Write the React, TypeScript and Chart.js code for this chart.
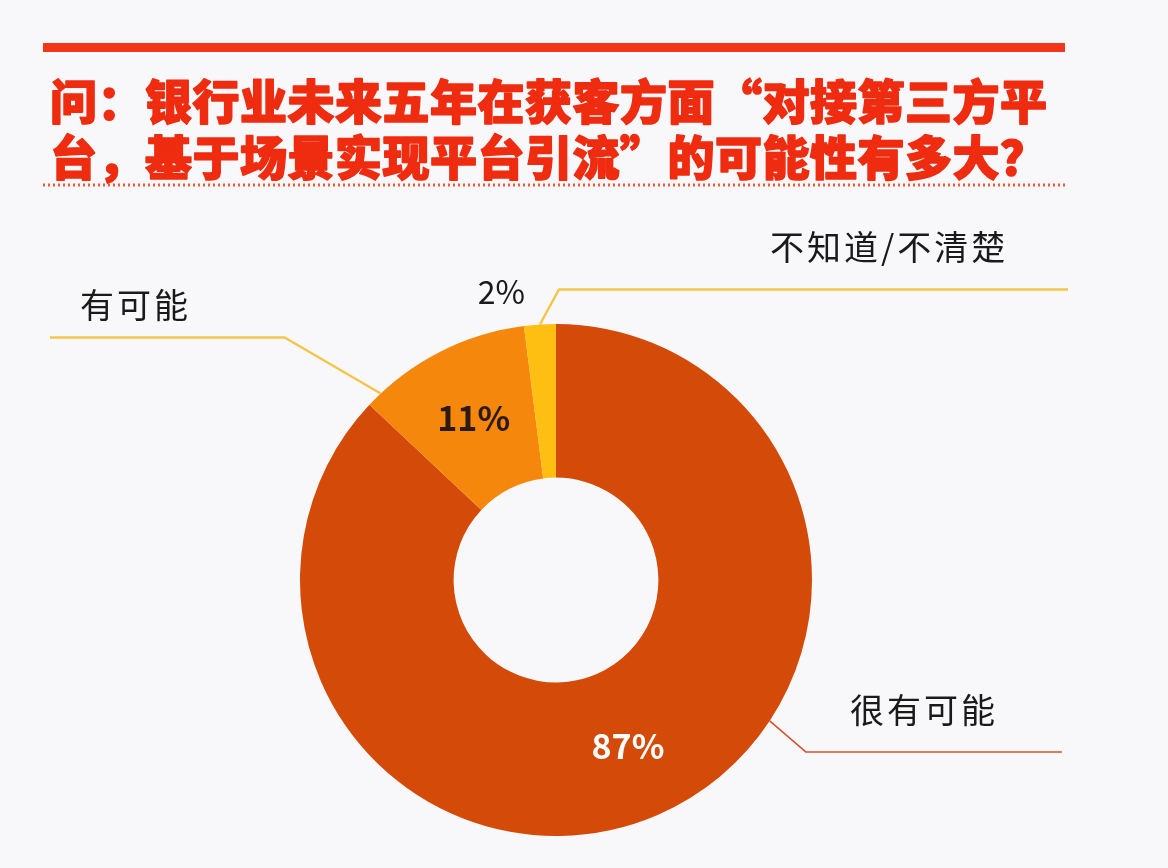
import React, { useEffect, useRef } from 'react';
import { Chart, registerables } from 'chart.js';

Chart.register(...registerables);

// data
const categories = ['很有可能', '有可能', '不知道/不清楚'];
const shares = [87, 11, 2];
const titleLines = ['问：银行业未来五年在获客方面“对接第三方平', '台，基于场景实现平台引流”的可能性有多大？'];

const sliceColors = ['#D44A08', '#F5870C', '#FFBE12'];
const BG = '#F8F8FA';
const FONT = '"Noto Sans CJK SC", "Noto Sans", sans-serif';

// leader line layout per slice: t = where on the slice arc the line starts,
// elbow = offset from the arc edge, endX = where the horizontal part stops
const leaders = [
  { t: 0.394, elbow: [36, 31], endX: 1062, color: '#D4502C', width: 1.5, label: [850, 710], pctInside: true, pctColor: '#FFFFFF' },
  { t: 0.09, elbow: [-96, -56], endX: 50, color: '#F3C64A', width: 2.5, label: [80, 305], pctInside: true, pctColor: '#2A1A12' },
  { t: 0.5, elbow: [19, -35], endX: 1068, color: '#F3C64A', width: 2.5, label: [770, 247], pctInside: false, pctColor: '#1A1A1A' },
];

const annotations = {
  id: 'annotations',
  beforeDraw(chart: Chart) {
    const { ctx, width, height } = chart;
    ctx.save();
    ctx.fillStyle = BG;
    ctx.fillRect(0, 0, width, height);
    ctx.restore();
  },
  afterDraw(chart: Chart) {
    const { ctx } = chart;
    ctx.save();

    // header rule
    ctx.fillStyle = '#F2361A';
    ctx.fillRect(43, 43, 1022, 9);

    // title (stroked a little to get the heavy look)
    ctx.fillStyle = '#EF2C10';
    ctx.strokeStyle = '#EF2C10';
    ctx.lineWidth = 1.6;
    ctx.lineJoin = 'round';
    ctx.font = `900 47px ${FONT}`;
    (ctx as any).letterSpacing = '0.5px';
    ctx.textBaseline = 'middle';
    ctx.textAlign = 'left';
    titleLines.forEach((line, i) => {
      ctx.fillText(line, 50, 101 + i * 56);
      ctx.strokeText(line, 50, 101 + i * 56);
    });
    (ctx as any).letterSpacing = '0px';

    // dotted rule under title
    ctx.strokeStyle = '#F05A3A';
    ctx.lineWidth = 3;
    ctx.setLineDash([2, 3]);
    ctx.beginPath();
    ctx.moveTo(43, 185);
    ctx.lineTo(1065, 185);
    ctx.stroke();
    ctx.setLineDash([]);

    const meta = chart.getDatasetMeta(0);
    meta.data.forEach((el: any, i: number) => {
      const { x, y, startAngle, endAngle, innerRadius, outerRadius } = el.getProps(
        ['x', 'y', 'startAngle', 'endAngle', 'innerRadius', 'outerRadius'],
        true
      );
      const cfg = leaders[i];
      const a = startAngle + cfg.t * (endAngle - startAngle);
      const sx = x + Math.cos(a) * outerRadius;
      const sy = y + Math.sin(a) * outerRadius;
      const ex = sx + cfg.elbow[0];
      const ey = sy + cfg.elbow[1];

      ctx.strokeStyle = cfg.color;
      ctx.lineWidth = cfg.width;
      ctx.beginPath();
      ctx.moveTo(sx, sy);
      ctx.lineTo(ex, ey);
      ctx.lineTo(cfg.endX, ey);
      ctx.stroke();

      // category label
      ctx.fillStyle = '#1A1A1A';
      ctx.font = `34px ${FONT}`;
      (ctx as any).letterSpacing = '3px';
      ctx.textAlign = 'left';
      ctx.fillText(categories[i], cfg.label[0], cfg.label[1]);
      (ctx as any).letterSpacing = '0px';

      // percentage
      const text = `${shares[i]}%`;
      if (cfg.pctInside) {
        const mid = (startAngle + endAngle) / 2;
        const r = (innerRadius + outerRadius) / 2 + 2;
        ctx.font = `bold 34px ${FONT}`;
        ctx.textAlign = 'center';
        ctx.fillStyle = cfg.pctColor;
        ctx.fillText(text, x + Math.cos(mid) * r, y + Math.sin(mid) * r);
      } else {
        ctx.font = `32px ${FONT}`;
        ctx.textAlign = 'right';
        ctx.fillStyle = cfg.pctColor;
        ctx.fillText(text, ex - 34, ey + 2);
      }
    });

    ctx.restore();
  },
};

export default function App() {
  const canvasRef = useRef<HTMLCanvasElement>(null);
  const chartRef = useRef<Chart | null>(null);

  useEffect(() => {
    document.body.style.margin = '0';
    if (!canvasRef.current) return;
    chartRef.current = new Chart(canvasRef.current, {
      type: 'doughnut',
      data: {
        labels: categories,
        datasets: [
          {
            data: shares,
            backgroundColor: sliceColors,
            borderWidth: 0,
          },
        ],
      },
      options: {
        responsive: true,
        maintainAspectRatio: false,
        animation: false,
        cutout: '40%',
        layout: { padding: { left: 300, right: 356, top: 324, bottom: 32 } },
        plugins: {
          legend: { display: false },
          tooltip: { enabled: false },
        },
      },
      plugins: [annotations],
    });
    return () => {
      chartRef.current?.destroy();
      chartRef.current = null;
    };
  }, []);

  return (
    <div style={{ position: 'fixed', left: 0, top: 0, width: 1168, height: 868, background: BG }}>
      <canvas ref={canvasRef}></canvas>
    </div>
  );
}
